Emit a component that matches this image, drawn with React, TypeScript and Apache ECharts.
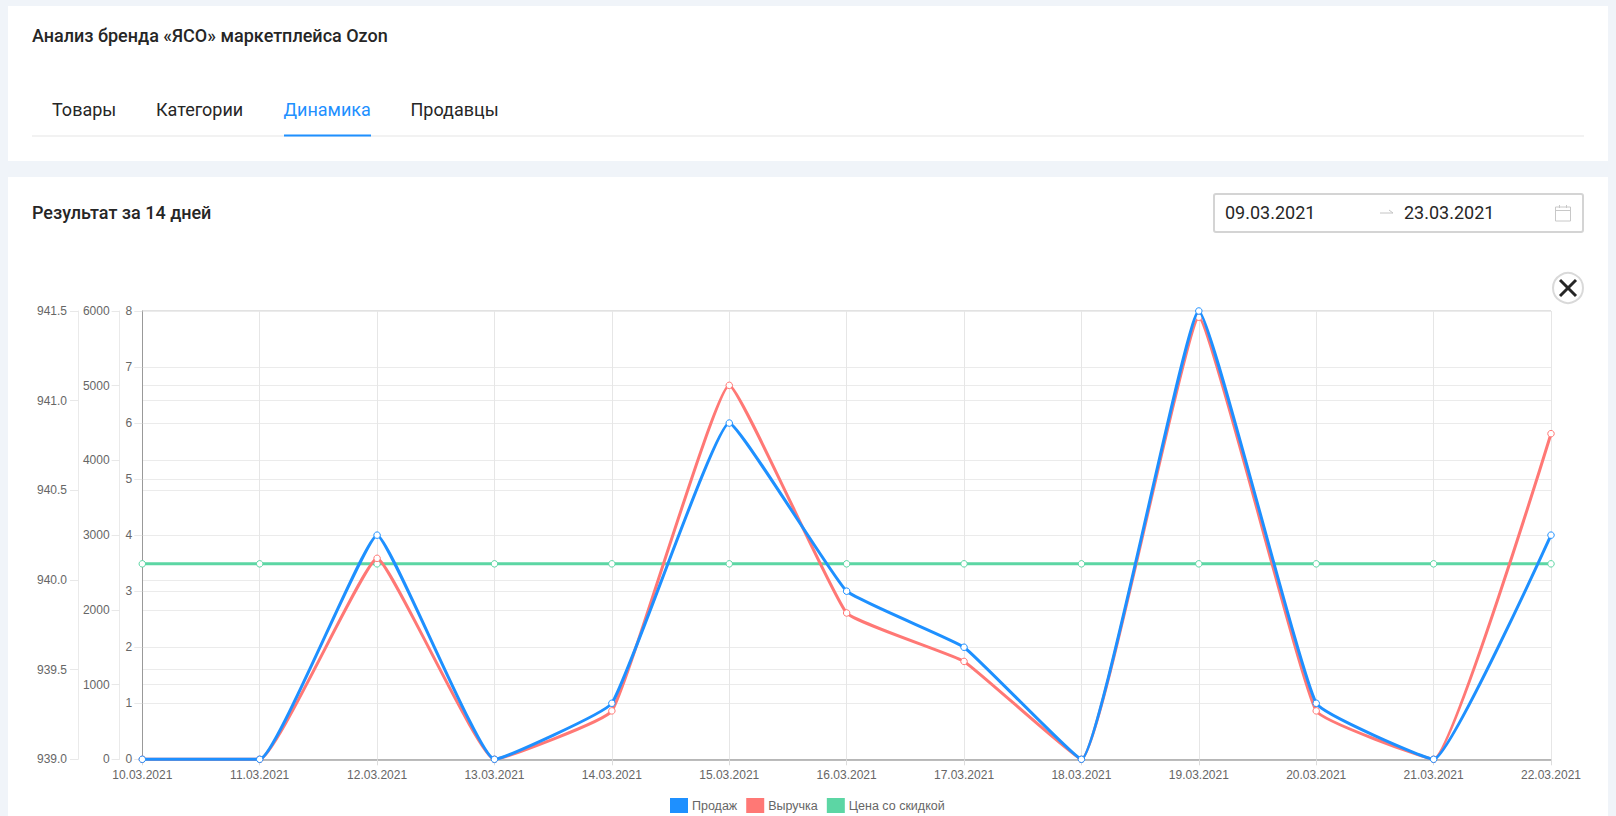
import React, { useEffect, useRef } from "react";
import * as echarts from "echarts";

const dates = ["10.03.2021","11.03.2021","12.03.2021","13.03.2021","14.03.2021","15.03.2021","16.03.2021","17.03.2021","18.03.2021","19.03.2021","20.03.2021","21.03.2021","22.03.2021"];
const sales = [0,0,4,0,1,6,3,2,0,8,1,0,4];
const revenue = [0,0,2690,0,648,5005,1958,1310,0,5917,648,0,4358];
const price = [940.09,940.09,940.09,940.09,940.09,940.09,940.09,940.09,940.09,940.09,940.09,940.09,940.09];
const tabs = [
  { label: "Товары", x: 52, active: false },
  { label: "Категории", x: 156, active: false },
  { label: "Динамика", x: 283.5, active: true },
  { label: "Продавцы", x: 410.5, active: false },
];
const pageTitle = "Анализ бренда «ЯСО» маркетплейса Ozon";
const sectionTitle = "Результат за 14 дней";
const dateFrom = "09.03.2021";
const dateTo = "23.03.2021";
const BLUE = "#1E90FF";
const RED = "#FF7875";
const GREEN = "#5CD6A4";
const UI = "Roboto, sans-serif";
const CH = "'Liberation Sans', Arial, sans-serif";

const txt = (text: string, x: number, y: number, size: number, weight: number, fill: string) => ({
  type: "text", x, y, silent: true,
  style: { text, fontFamily: UI, fontSize: size, fontWeight: weight, fill, textVerticalAlign: "middle", verticalAlign: "middle" },
});
const ln = (x1: number, y1: number, x2: number, y2: number, stroke: string, lineWidth: number) => ({
  type: "line", silent: true, shape: { x1, y1, x2, y2 }, style: { stroke, lineWidth },
});

const yAxisBase = (min: number, max: number, interval: number, offset: number, lineColor: string, decimals: number, margin: number) => ({
  type: "value", position: "left", min, max, interval, offset,
  axisLine: { show: true, lineStyle: { color: lineColor, width: 1 } },
  axisTick: { show: true, length: 8, lineStyle: { color: "#e8e8e8" } },
  axisLabel: { color: "#666", fontFamily: CH, fontSize: 12, margin, formatter: (v: number) => v.toFixed(decimals) },
  splitLine: { show: true, lineStyle: { color: "#ebebeb", width: 1 } },
});

const series = (name: string, data: number[], color: string, yAxisIndex: number, z: number) => ({
  name, type: "line", data, yAxisIndex, z, smooth: 0.1,
  symbol: "circle", symbolSize: 6.5, showSymbol: true, clip: false,
  lineStyle: { color, width: 3 },
  itemStyle: { color: "#fff", borderColor: color, borderWidth: 1 },
});

export default function App() {
  const ref = useRef<HTMLDivElement>(null);
  useEffect(() => {
    document.body.style.margin = "0";
    document.body.style.overflow = "hidden";
    const chart = echarts.init(ref.current!, undefined, { renderer: "svg" });
    chart.setOption({
      animation: false,
      grid: { left: 142.3, right: 65, top: 311, bottom: 56.7, containLabel: false },
      legend: {
        left: 670, top: 798, itemWidth: 18, itemHeight: 15, itemGap: 9, selectedMode: false,
        textStyle: { color: "#666", fontFamily: CH, fontSize: 12.5, padding: [0, 0, 0, -1] },
        padding: 0,
        data: [
          { name: "Продаж", icon: "rect", itemStyle: { color: BLUE, borderWidth: 0 } },
          { name: "Выручка", icon: "rect", itemStyle: { color: RED, borderWidth: 0 } },
          { name: "Цена со скидкой", icon: "rect", itemStyle: { color: GREEN, borderWidth: 0 } },
        ],
      },
      xAxis: {
        type: "category", data: dates, boundaryGap: false,
        axisLine: { lineStyle: { color: "#a6a6a6", width: 1.5 } },
        axisTick: { show: true, alignWithLabel: true, length: 6, lineStyle: { color: "#dcdcdc" } },
        axisLabel: { color: "#666", fontFamily: CH, fontSize: 12, margin: 10, interval: 0, hideOverlap: false, showMinLabel: true, showMaxLabel: true },
        splitLine: { show: true, lineStyle: { color: "#e6e6e6", width: 1 } },
      },
      yAxis: [
        yAxisBase(0, 8, 1, 0, "#999", 0, 10),
        yAxisBase(0, 6000, 1000, 22.7, "#eaeaea", 0, 10),
        yAxisBase(939, 941.5, 0.5, 64.3, "#eaeaea", 1, 11),
      ],
      series: [
        series("Продаж", sales, BLUE, 0, 5),
        series("Выручка", revenue, RED, 1, 4),
        series("Цена со скидкой", price, GREEN, 2, 3),
      ],
      graphic: [
        txt(pageTitle, 32, 35.5, 18, 500, "#262626"),
        ...tabs.map((t) => txt(t.label, t.x, 109.2, 18, 400, t.active ? BLUE : "#262626")),
        ln(32, 136, 1584, 136, "#eeeeee", 1.5),
        ln(284, 135.5, 371, 135.5, BLUE, 2),
        txt(sectionTitle, 32, 212.2, 18, 500, "#262626"),
        ln(142, 311, 1551, 311, "#d9d9d9", 1.5),
        { type: "rect", silent: true, shape: { x: 1214, y: 194, width: 369, height: 38, r: 2 }, style: { fill: "#fff", stroke: "#d4d4d4", lineWidth: 2 } },
        txt(dateFrom, 1225, 212.4, 18, 400, "#262626"),
        ln(1380, 213, 1393, 213, "#c4c4c4", 1),
        ln(1389, 210, 1393, 213, "#c4c4c4", 1),
        txt(dateTo, 1404, 212.4, 18, 400, "#262626"),
        { type: "rect", silent: true, shape: { x: 1555.5, y: 207, width: 15, height: 14 }, style: { fill: "none", stroke: "#c8c8c8", lineWidth: 1 } },
        ln(1555.5, 210.5, 1570.5, 210.5, "#c8c8c8", 1),
        ln(1559.5, 205, 1559.5, 208, "#c8c8c8", 1),
        ln(1566.5, 205, 1566.5, 208, "#c8c8c8", 1),
        { type: "circle", silent: true, shape: { cx: 1568, cy: 288, r: 15 }, style: { fill: "#fff", stroke: "#d9d9d9", lineWidth: 2 } },
        ln(1560, 280, 1576, 296, "#262626", 3),
        ln(1576, 280, 1560, 296, "#262626", 3),
      ],
    });
    return () => chart.dispose();
  }, []);
  return (
    <div style={{ position: "relative", width: 1616, height: 816, background: "#f0f4f9", overflow: "hidden" }}>
      <div style={{ position: "absolute", left: 8, top: 6, width: 1600, height: 155, background: "#fff" }} />
      <div style={{ position: "absolute", left: 8, top: 177, width: 1600, height: 639, background: "#fff" }} />
      <div ref={ref} style={{ position: "absolute", left: 0, top: 0, width: 1616, height: 816 }} />
    </div>
  );
}
